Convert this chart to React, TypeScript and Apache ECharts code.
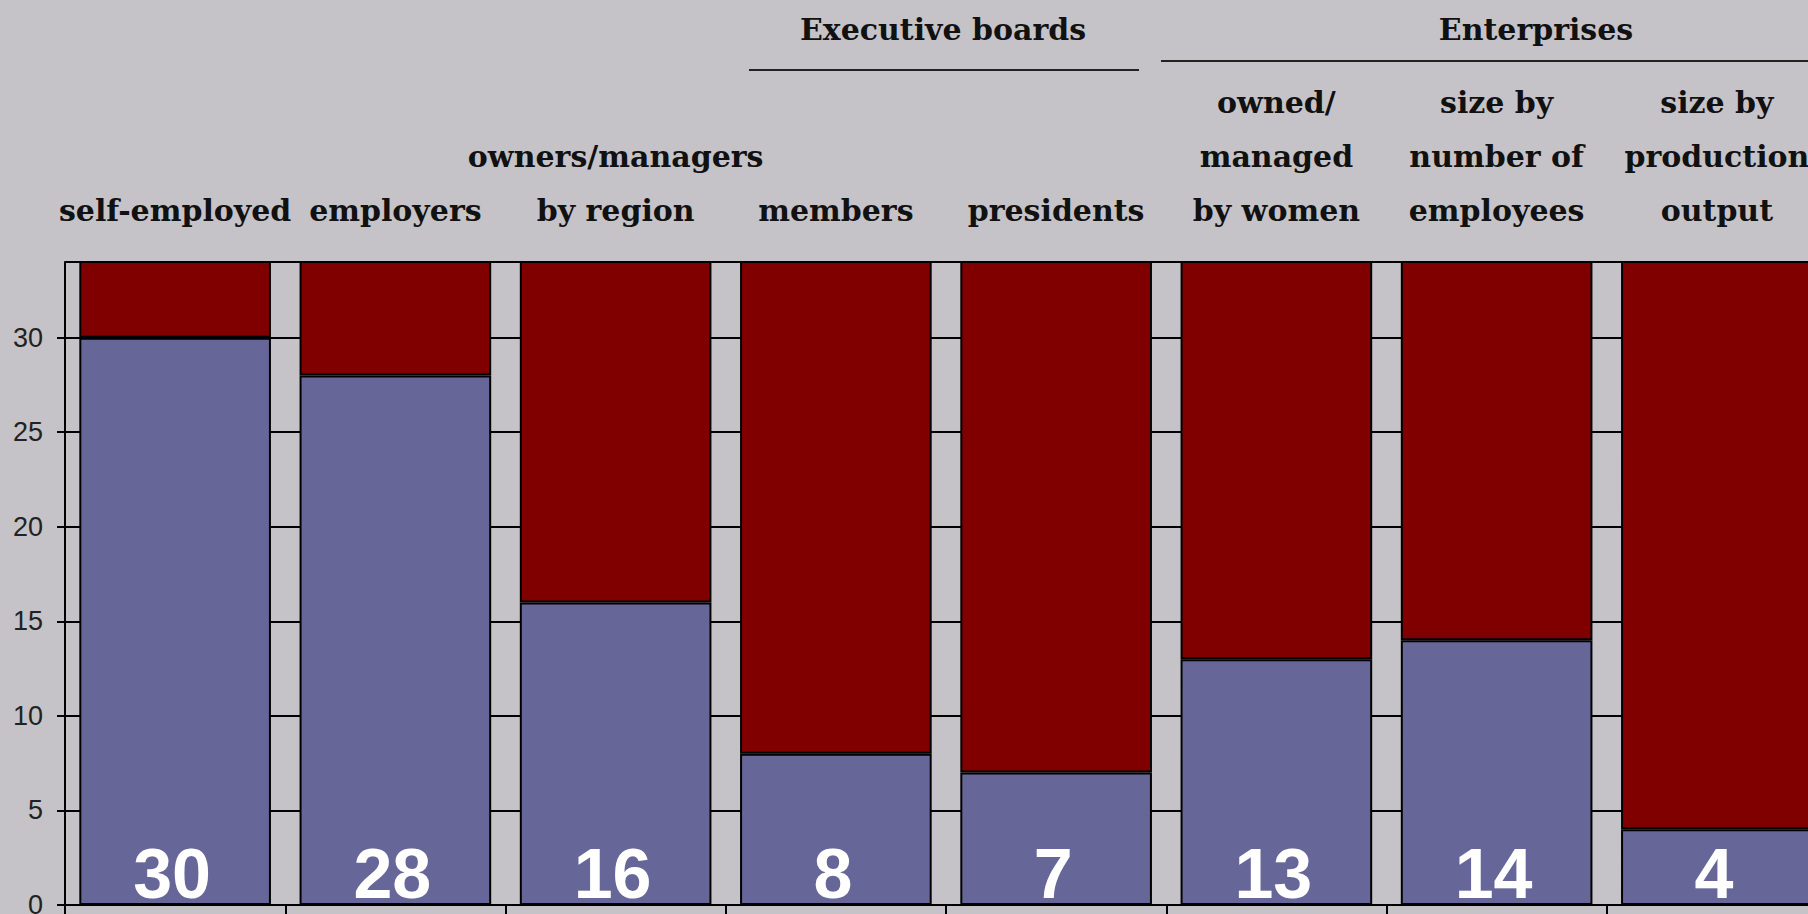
import React, { useEffect, useRef } from "react";
import * as echarts from "echarts";

const categories = [
  "self-employed",
  "employers",
  "owners/managers\nby region",
  "members",
  "presidents",
  "owned/\nmanaged\nby women",
  "size by\nnumber of\nemployees",
  "size by\nproduction\noutput",
];
const womenShare = [30, 28, 16, 8, 7, 13, 14, 4];
const menShare = [70, 72, 84, 92, 93, 87, 86, 96];
const yTicks = { min: 0, max: 34, interval: 5 };
const groupHeaders = ["Executive boards", "Enterprises"];

const BG = "#c5c3c7";
const BLUE = "#666699";
const RED = "#800000";
const SERIF = "'DejaVu Serif', serif";

export default function App() {
  const ref = useRef<HTMLDivElement>(null);
  useEffect(() => {
    if (!ref.current) return;
    const chart = echarts.init(ref.current, null, { renderer: "svg" });
    chart.setOption({
      animation: false,
      backgroundColor: BG,
      grid: { left: 65, top: 262, width: 1762, height: 643, outerBoundsMode: "none", containLabel: false },
      xAxis: [
        {
          type: "category",
          data: categories,
          position: "bottom",
          axisLine: { show: true, lineStyle: { color: "#000", width: 2 } },
          axisTick: { show: true, interval: 0, length: 10, lineStyle: { color: "#000", width: 2 } },
          axisLabel: { show: false },
          splitLine: { show: false },
        },
        {
          type: "category",
          data: categories,
          position: "top",
          axisLine: { show: false },
          axisTick: { show: false },
          splitLine: { show: false },
          axisLabel: {
            show: true,
            interval: 0,
            margin: 25,
            fontFamily: SERIF,
            fontSize: 30,
            fontWeight: "bold",
            lineHeight: 54,
            color: "#111",
            align: "center",
            verticalAlign: "bottom",
          },
        },
      ],
      yAxis: {
        type: "value",
        min: yTicks.min,
        max: yTicks.max,
        interval: yTicks.interval,
        axisLine: { show: true, lineStyle: { color: "#000", width: 2 } },
        axisTick: { show: true, length: 8, lineStyle: { color: "#000", width: 2 } },
        axisLabel: {
          showMaxLabel: false,
          margin: 22,
          fontFamily: "'Liberation Sans Narrow', 'Liberation Sans', Arial, sans-serif",
          fontSize: 27,
          color: "#222",
        },
        splitLine: { show: true, lineStyle: { color: "#000", width: 2 } },
      },
      series: [
        {
          type: "bar",
          name: "women",
          stack: "total",
          data: womenShare,
          barCategoryGap: "13%",
          itemStyle: { color: BLUE, borderColor: "#000", borderWidth: 2 },
          label: {
            show: true,
            position: "insideBottom",
            distance: 0,
            offset: [-3, 4],
            color: "#fff",
            fontFamily: "'Liberation Sans', Arial, sans-serif",
            fontWeight: "bold",
            fontSize: 70,
          },
        },
        {
          type: "bar",
          name: "men",
          stack: "total",
          data: menShare,
          barCategoryGap: "13%",
          itemStyle: { color: RED, borderColor: "#000", borderWidth: 2 },
        },
      ],
      graphic: [
        {
          type: "text",
          x: 943,
          y: 29,
          style: {
            text: groupHeaders[0],
            fontFamily: SERIF,
            fontSize: 30,
            fontWeight: "bold",
            fill: "#111",
            align: "center",
            verticalAlign: "middle",
          },
        },
        {
          type: "text",
          x: 1536,
          y: 29,
          style: {
            text: groupHeaders[1],
            fontFamily: SERIF,
            fontSize: 30,
            fontWeight: "bold",
            fill: "#111",
            align: "center",
            verticalAlign: "middle",
          },
        },
        {
          type: "line",
          shape: { x1: 749, y1: 70, x2: 1139, y2: 70 },
          style: { stroke: "#222", lineWidth: 2 },
        },
        {
          type: "line",
          shape: { x1: 1161, y1: 61, x2: 1808, y2: 61 },
          style: { stroke: "#222", lineWidth: 2 },
        },
      ],
    });
    return () => chart.dispose();
  }, []);
  return (
    <div
      ref={ref}
      style={{ position: "fixed", left: 0, top: 0, width: 1808, height: 914 }}
    />
  );
}
